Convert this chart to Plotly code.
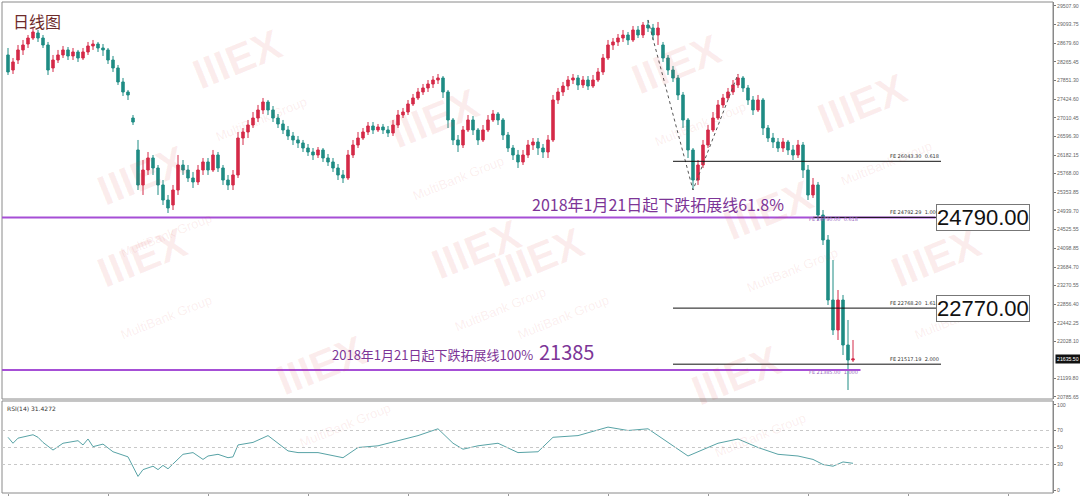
import plotly.graph_objects as go

# ---------------- data ----------------
opens = [28415,28080,28303,28527,28660,28794,28906,28794,28638,28125,28303,28415,28527,28393,28482,28348,28482,28616,28660,28571,
         28527,28303,28125,27813,27590,27009,26296,25515,25849,26117,25894,25515,25180,25069,25403,25961,25849,25671,25582,25849,
         26028,25849,26184,25894,25626,25515,25738,26563,26697,26853,27009,27188,27366,27188,27009,26876,26742,26608,26519,26452,
         26340,26251,26184,26296,26117,26028,25894,25738,25671,26184,26407,26563,26697,26831,26742,26809,26742,26675,26853,27076,
         27143,27322,27456,27590,27679,27768,27857,27902,27590,26965,26519,26407,26742,26965,26742,26519,26742,26965,27099,26965,
         26630,26340,26184,26028,26184,26407,26474,26340,26251,26519,27411,27590,27723,27857,27902,27746,27857,27723,27857,28036,
         28348,28638,28705,28794,28861,28750,28973,28861,29084,29017,28861,28638,28348,28080,27902,27523,26965,26296,25626,25961,
         26407,26742,27009,27300,27456,27590,27746,27902,27679,27411,27188,27411,26786,26563,26474,26340,26474,26296,26184,26407,
         25849,25292,25515,24845,24288,22949,22280,22949,21945,21610]
highs = [28571,28348,28638,28750,28861,29017,28973,28861,28705,28415,28527,28616,28593,28571,28527,28571,28705,28750,28705,28660,
         28571,28393,28192,27902,27634,27076,26519,26072,26251,26184,25961,25626,25292,25515,26184,26072,25961,25805,25961,26117,
         26117,26296,26251,25961,25738,25849,26697,26786,26965,27143,27300,27456,27411,27277,27099,26965,26831,26697,26608,26519,
         26429,26340,26362,26340,26206,26117,25983,25849,26296,26519,26697,26786,26920,26920,26876,26876,26831,26965,27188,27233,
         27411,27545,27679,27768,27857,27946,27991,27946,27634,27009,26630,26831,27076,27054,26786,26853,27076,27188,27143,27009,
         26697,26407,26296,26296,26519,26563,26563,26429,26630,27523,27679,27813,27946,27991,27969,27946,27946,27969,28125,28437,
         28750,28794,28883,28973,28928,29062,29062,29151,29196,29107,29151,28705,28415,28170,27969,27590,27009,26340,26072,26519,
         26853,27143,27411,27545,27679,27857,27991,27946,27746,27500,27523,27456,26853,26675,26563,26563,26519,26407,26519,26474,
         25961,25671,25582,24957,24399,23841,23172,23061,22503,22057]
lows = [27969,27991,28214,28415,28571,28750,28705,28571,27969,28036,28236,28348,28303,28303,28259,28303,28415,28527,28482,28393,
        28214,28036,27746,27500,27411,26853,25403,25292,25738,25738,25292,25069,24890,24957,25292,25738,25582,25448,25515,25738,
        25738,25805,25805,25515,25403,25403,25671,26407,26563,26786,26920,27099,27076,26920,26786,26652,26519,26407,26340,26251,
        26162,26072,26117,26028,25939,25805,25626,25559,25626,26117,26340,26519,26630,26652,26697,26652,26585,26608,26786,27009,
        27076,27277,27411,27523,27590,27679,27768,27456,26786,26407,26251,26340,26697,26630,26407,26474,26697,26920,26853,26519,
        26251,26072,25894,25961,26117,26296,26184,26117,26117,26474,27322,27500,27634,27768,27634,27679,27634,27679,27813,27969,
        28303,28527,28616,28705,28638,28705,28794,28794,28928,28750,28638,28259,27969,27813,27411,26786,26117,25403,25515,25894,
        26340,26697,26965,27233,27411,27523,27679,27590,27300,27076,27143,26630,26474,26340,26251,26251,26184,26072,26117,25671,
        25180,25225,24734,24176,22837,22168,22057,21722,20941,21566]
closes = [28036,28259,28527,28638,28794,28928,28794,28638,28080,28303,28415,28527,28393,28482,28348,28482,28616,28660,28571,28527,
          28303,28125,27813,27590,27523,26920,25515,25849,26117,25894,25515,25180,25002,25403,25961,25849,25671,25582,25849,26028,
          25849,26184,25894,25626,25515,25738,26563,26697,26853,27009,27188,27366,27188,27009,26876,26742,26608,26519,26452,26340,
          26251,26184,26296,26117,26028,25894,25738,25671,26184,26407,26563,26697,26831,26742,26809,26742,26675,26853,27076,27143,
          27322,27456,27590,27679,27768,27857,27902,27590,26965,26519,26407,26742,26965,26742,26519,26742,26965,27099,26965,26630,
          26340,26184,26028,26184,26407,26474,26340,26251,26519,27411,27590,27723,27857,27902,27746,27857,27723,27857,28036,28348,
          28638,28705,28794,28861,28750,28973,28861,29084,29017,28861,29017,28348,28080,27902,27523,26965,26296,25626,25961,26407,
          26742,27009,27300,27456,27590,27746,27902,27679,27411,27188,27411,26786,26563,26474,26340,26474,26296,26184,26407,25849,
          25292,25515,24845,24288,22949,22280,22949,21945,21610,21635.5]

rsi_index = [0,1,2,5,6,7,9,11,14,15,16,17,19,21,24,26,27,29,30,31,32,35,37,39,40,42,44,45,46,49,52,54,56,58,62,67,70,74,78,82,
             86,89,91,94,98,102,106,109,114,120,124,128,131,136,138,142,146,150,154,158,161,163,165,167,169]
rsi_values = [62,55,61,65,62,56,47,55,58,53,60,51,54,45,39,16,24,28,24,29,25,42,44,36,40,42,38,39,53,56,64,55,46,44,44,38,50,52,58,64,
              72,55,48,52,55,44,45,62,64,74,70,72,60,40,45,55,60,50,42,40,36,30,28,33,31.4272]

price_ticks = [29507.90,29093.75,28679.60,28265.45,27851.30,27424.60,27010.45,26596.30,26182.15,25768.00,25353.85,
               24939.70,24525.55,24098.85,23684.70,23270.55,22856.40,22442.25,22028.10,21199.80,20785.65]
rsi_ticks = [100, 70, 50, 30, 0]
last_price = 21635.50

fe_levels = [26043.30, 24792.29, 22768.20, 21517.19]
fe_ratios = ["0.618", "1.000", "1.618", "2.000"]
purple_levels = [24790.00, 21385.00]
purple_ratios = ["0.618", "1.000"]
box_levels = [24790.00, 22770.00]
fe_points_idx = [128, 137, 146]
fe_points_val = [29196, 25403, 27991]

# ---------------- figure ----------------
UP = "#d42a48"
DOWN = "#1f8c84"
PURPLE_LINE = "#a64fd6"
PURPLE_TEXT = "#7d3597"

x_idx = list(range(len(opens)))

fig = go.Figure()
fig.add_trace(go.Candlestick(
    x=x_idx, open=opens, high=highs, low=lows, close=closes,
    increasing=dict(line=dict(color=UP, width=1), fillcolor=UP),
    decreasing=dict(line=dict(color=DOWN, width=1), fillcolor=DOWN),
    whiskerwidth=0, xaxis="x", yaxis="y", showlegend=False, hoverinfo="skip"))

fig.add_trace(go.Scatter(x=rsi_index, y=rsi_values, mode="lines",
                         line=dict(color="#58a3a6", width=1), xaxis="x2", yaxis="y2",
                         showlegend=False, hoverinfo="skip"))

fig.add_trace(go.Scatter(x=fe_points_idx, y=fe_points_val, mode="lines",
                         line=dict(color="#555555", width=1, dash="dot"),
                         xaxis="x", yaxis="y", showlegend=False, hoverinfo="skip"))

XR = [-1.2, 209.0]
TICKFONT = dict(size=5.2, color="#666", family="Liberation Sans")
fig.update_layout(
    width=1080, height=496,
    template="none",
    paper_bgcolor="white", plot_bgcolor="white",
    margin=dict(l=2, r=27, t=2, b=3),
    xaxis=dict(domain=[0, 1], range=XR, showticklabels=False, showgrid=False, zeroline=False,
               rangeslider=dict(visible=False), anchor="y", automargin=False, fixedrange=True),
    xaxis2=dict(domain=[0, 1], range=XR, showticklabels=False, showgrid=False, zeroline=False,
                anchor="y2", automargin=False,
                ticks="outside", ticklen=2, tickcolor="#999", dtick=20),
    yaxis=dict(domain=[0.1914, 1], range=[20740, 29597], side="right", anchor="x",
               tickvals=price_ticks, ticktext=[f"{v:.2f}" for v in price_ticks],
               tickfont=TICKFONT, ticks="outside", ticklen=2, tickcolor="#777",
               showgrid=False, zeroline=False, showline=True, linecolor="#888", linewidth=1,
               automargin=False),
    yaxis2=dict(domain=[0, 0.1874], range=[-3.5, 104.7], side="right", anchor="x2",
                tickvals=rsi_ticks, ticktext=[str(v) for v in rsi_ticks],
                tickfont=TICKFONT, ticks="outside", ticklen=2, tickcolor="#777",
                showgrid=False, zeroline=False, showline=True, linecolor="#888", linewidth=1,
                automargin=False),
    font=dict(family="Noto Sans CJK SC"),
)

shapes = []
shapes.append(dict(type="rect", xref="paper", yref="paper", x0=0, x1=1, y0=0.1914, y1=1,
                   line=dict(color="#8a8a8a", width=1), fillcolor="rgba(0,0,0,0)"))
shapes.append(dict(type="rect", xref="paper", yref="paper", x0=0, x1=1, y0=0, y1=0.1874,
                   line=dict(color="#8a8a8a", width=1), fillcolor="rgba(0,0,0,0)"))
for lv in [70, 50, 30]:
    shapes.append(dict(type="line", xref="x2", yref="y2", x0=XR[0], x1=XR[1], y0=lv, y1=lv,
                       line=dict(color="#c8c8c8", width=1, dash="dot")))
shapes.append(dict(type="line", xref="x", yref="y", x0=XR[0], x1=185.5, y0=purple_levels[0], y1=purple_levels[0],
                   line=dict(color=PURPLE_LINE, width=2)))
shapes.append(dict(type="line", xref="x", yref="y", x0=XR[0], x1=170.5, y0=purple_levels[1], y1=purple_levels[1],
                   line=dict(color=PURPLE_LINE, width=2)))
fe_start = [133, 161, 133, 133]
for lv, s in zip(fe_levels, fe_start):
    shapes.append(dict(type="line", xref="x", yref="y", x0=s, x1=186.6, y0=lv, y1=lv,
                       line=dict(color="#111111", width=1)))
fig.update_layout(shapes=shapes)

ann = []
# watermarks first (drawn underneath other annotations)
wm = [(0.17, 0.97), (0.42, 0.85), (0.65, 0.96), (0.89, 0.88), (0.08, 0.60), (0.46, 0.45), (0.80, 0.53),
      (0.08, 0.30), (0.52, 0.30), (0.96, 0.30), (0.77, 0.06), (0.25, 0.08)]
for (wx, wy) in wm:
    ann.append(dict(text="<b>IIIEX</b><br><span style='font-size:13px'>MultiBank Group</span>", xref="paper", yref="paper",
                    x=wx, y=wy, showarrow=False, textangle=-22,
                    font=dict(size=42, color="rgba(215,60,60,0.09)", family="Liberation Sans")))
ann.append(dict(text="日线图", xref="paper", yref="paper", x=0.0085, y=0.99, xanchor="left", yanchor="top",
                showarrow=False, font=dict(size=16, color="#6e2b2b", family="Noto Sans CJK SC")))
ann.append(dict(text="RSI(14) 31.4272", xref="paper", yref="paper", x=0.003, y=0.183, xanchor="left", yanchor="top",
                showarrow=False, font=dict(size=6, color="#333", family="DejaVu Sans")))
for lv, r in zip(fe_levels, fe_ratios):
    ann.append(dict(text=f"FE {lv:.2f}  {r}", xref="x", yref="y", x=186.6, y=lv, xanchor="right", yanchor="bottom",
                    showarrow=False, font=dict(size=5, color="#333", family="DejaVu Sans")))
for lv, r in zip(purple_levels, purple_ratios):
    ann.append(dict(text=f"FE {lv:.2f}  {r}", xref="x", yref="y", x=170.4, y=lv, xanchor="right", yanchor="top",
                    yshift=3, showarrow=False, font=dict(size=5, color="#9a6ac0", family="DejaVu Sans")))
for lv in box_levels:
    ann.append(dict(text=f"{lv:.2f}", xref="x", yref="y", x=185.6, y=lv, xanchor="left", yanchor="middle",
                    showarrow=False, font=dict(size=22, color="#111", family="Liberation Sans"),
                    bordercolor="#777", borderwidth=1, borderpad=0, bgcolor="white"))
ann.append(dict(text="2018年1月21日起下跌拓展线61.8%", xref="x", yref="y", x=104.4, y=purple_levels[0],
                xanchor="left", yanchor="bottom", yshift=-1, showarrow=False,
                font=dict(size=16, color=PURPLE_TEXT)))
ann.append(dict(text="2018年1月21日起下跌拓展线100%  <span style='font-size:20px'>21385</span>", xref="x", yref="y",
                x=64.4, y=purple_levels[1], xanchor="left", yanchor="bottom", yshift=2, showarrow=False,
                font=dict(size=13, color=PURPLE_TEXT)))
ann.append(dict(text=f"{last_price:.2f}", xref="paper", yref="y", x=1.0, y=last_price, xanchor="left",
                yanchor="middle", xshift=2, showarrow=False, bgcolor="#111",
                font=dict(size=5.2, color="white", family="Liberation Sans")))
fig.update_layout(annotations=ann)

fig.write_html("out.html", config={"displayModeBar": False},
               post_script="document.body.style.margin='0';document.body.style.overflow='hidden';")
